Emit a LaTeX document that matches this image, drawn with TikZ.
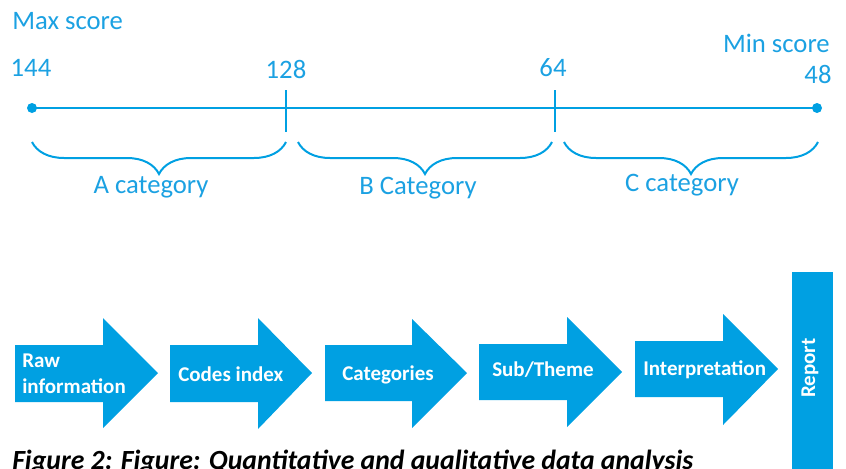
\documentclass[tikz,border=0pt]{standalone}
\usepackage{fontspec}
\setmainfont{Carlito}
\usetikzlibrary{decorations.pathreplacing}
\definecolor{skyblue}{RGB}{0,160,226}
\definecolor{labelblue}{RGB}{27,161,226}
\tikzset{
  scalelabel/.style={text=labelblue, inner sep=0pt, font=\fontsize{20}{24}\selectfont},
  catlabel/.style={text=labelblue, inner sep=0pt, font=\fontsize{20}{24}\selectfont, anchor=base},
  enddot/.style={circle, fill=skyblue, inner sep=0pt, minimum size=7.5pt},
  scaleline/.style={draw=skyblue, line width=1.6pt},
  tickline/.style={draw=skyblue, line width=1.9pt},
  catbrace/.style={draw=skyblue, line width=1.5pt, decorate,
    decoration={brace, mirror, amplitude=24}},
  flowarrow/.style={fill=skyblue},
  steplabel/.style={text=white, inner sep=0pt, anchor=base west,
    font=\bfseries\fontsize{15.75}{19}\selectfont},
}
\begin{document}
\begin{tikzpicture}[x=0.75pt, y=-0.75pt]
\useasboundingbox (0,0) rectangle (846,468);

% score scale
\node[enddot] (p144) at (32,108) {};
\node[enddot] (p48) at (817,108) {};
\draw[scaleline] (p144.center) -- (p48.center);
\coordinate (t128top) at (286,90);
\coordinate (t128bot) at (286,132);
\coordinate (t64top) at (555,90);
\coordinate (t64bot) at (555,132);
\draw[tickline] (t128top) -- (t128bot);
\draw[tickline] (t64top) -- (t64bot);

\node[scalelabel, anchor=base west] (maxs) at (12,29) {Max score};
\node[scalelabel, anchor=base east] (mins) at (830,52) {Min score};
\node[scalelabel, anchor=base] (n144) at (31,76) {144};
\node[scalelabel, anchor=base] (n128) at (286,78) {128};
\node[scalelabel, anchor=base] (n64) at (553,76) {64};
\node[scalelabel, anchor=base] (n48) at (818,83) {48};

% category braces
\coordinate (aL) at (32,142);  \coordinate (aR) at (286,142);
\coordinate (bL) at (298,142); \coordinate (bR) at (552,142);
\coordinate (cL) at (564,142); \coordinate (cR) at (818,142);
\draw[catbrace] (aL) -- (aR);
\draw[catbrace] (bL) -- (bR);
\draw[catbrace] (cL) -- (cR);
\node[catlabel] (catA) at (151,193) {A category};
\node[catlabel] (catB) at (418,194) {B Category};
\node[catlabel] (catC) at (682,191) {C category};

% analysis steps
\fill[flowarrow] (15,345) -- (103,345) -- (103,318) -- (158,373) -- (103,428) -- (103,402) -- (15,402) -- cycle;
\fill[flowarrow] (170,345) -- (258,345) -- (258,318) -- (312,373) -- (258,429) -- (258,402) -- (170,402) -- cycle;
\fill[flowarrow] (325,345) -- (412,345) -- (412,319) -- (467,373) -- (412,428) -- (412,401) -- (325,401) -- cycle;
\fill[flowarrow] (479,344) -- (567,344) -- (567,317) -- (622,372) -- (567,427) -- (567,400) -- (479,400) -- cycle;
\fill[flowarrow] (635,341) -- (723,341) -- (723,314) -- (778,369) -- (723,425) -- (723,397) -- (635,397) -- cycle;
\fill[flowarrow] (792,272) rectangle (833,470);

\node[steplabel] (raw) at (22,367) {Raw};
\node[steplabel] (rawinfo) at (22,393) {information};
\node[steplabel] (codes) at (178,381) {Codes index};
\node[steplabel] (cats) at (342,380) {Categories};
\node[steplabel] (theme) at (492,376) {Sub/Theme};
\node[steplabel] (interp) at (643,375) {Interpretation};
\node[text=white, inner sep=0pt, rotate=90, font=\bfseries\fontsize{15.75}{19}\selectfont] (report) at (810,368) {Report};

% caption, running off the lower edge
\node[anchor=base west, inner sep=0pt, font=\bfseries\itshape\fontsize{20.8}{25}\selectfont] (caption) at (12,469) {Figure 2: Figure: Quantitative and qualitative data analysis};
\end{tikzpicture}
\end{document}
